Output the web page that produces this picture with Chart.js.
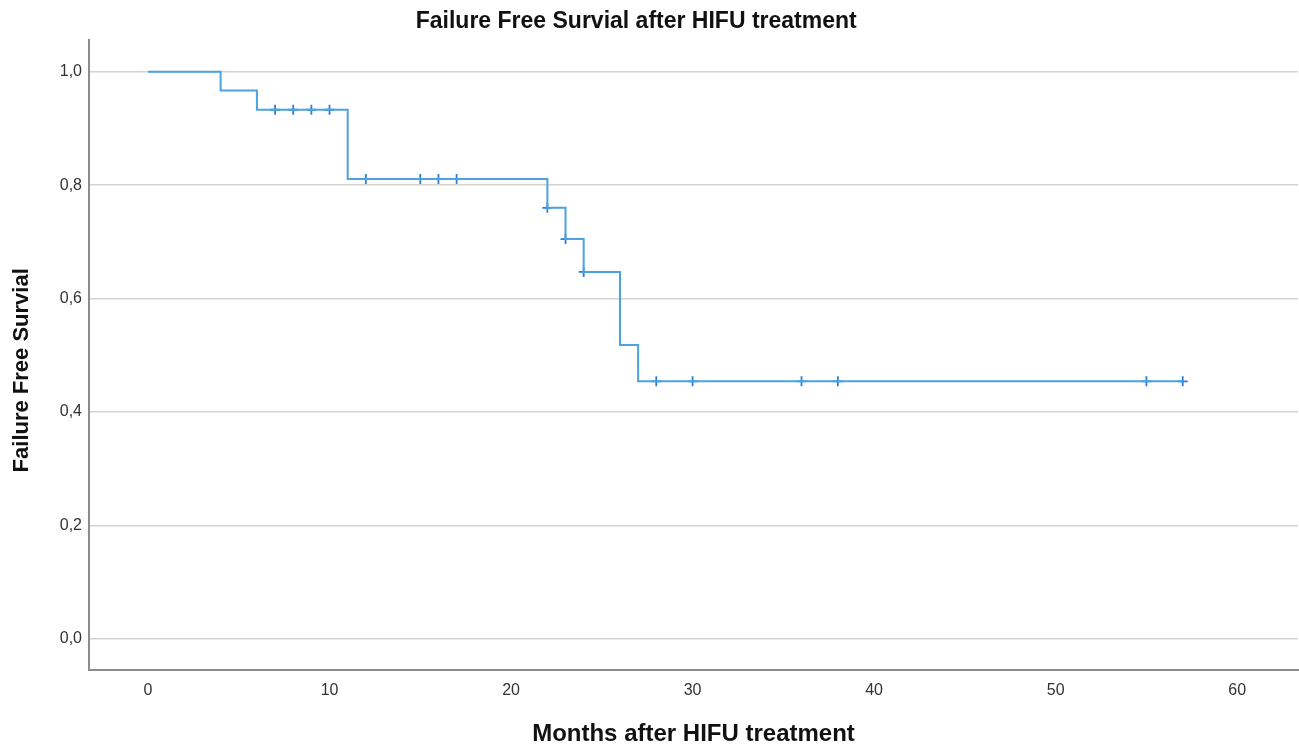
<!DOCTYPE html>
<html>
<head>
<meta charset="utf-8">
<script src="https://cdn.jsdelivr.net/npm/chart.js@4"></script>
<style>
  html, body { margin: 0; padding: 0; background: #fff; }
  #wrap { width: 1299px; height: 747px; }
</style>
</head>
<body>
<div id="wrap"><canvas id="kmChart"></canvas></div>
<script>
// Kaplan-Meier curve: event times and survival level after each step
const stepMonths = [0, 4, 6, 11, 22, 23, 24, 26, 27, 57];
const stepSurvival = [1.0, 0.967, 0.933, 0.811, 0.760, 0.705, 0.647, 0.518, 0.454, 0.454];

// censored observations
const censorMonths = [7, 8, 9, 10, 12, 15, 16, 17, 22, 23, 24, 28, 30, 36, 38, 55, 57];
const censorSurvival = [0.933, 0.933, 0.933, 0.933, 0.811, 0.811, 0.811, 0.811, 0.760, 0.705, 0.647, 0.454, 0.454, 0.454, 0.454, 0.454, 0.454];

const xTicks = [0, 10, 20, 30, 40, 50, 60];
const yTicks = [0, 0.2, 0.4, 0.6, 0.8, 1.0];

const toPoints = (xs, ys) => xs.map((x, i) => ({ x: x, y: ys[i] }));

const fontName = "'Liberation Sans', Arial, sans-serif";

new Chart(document.getElementById("kmChart"), {
    type: "line",
    data: {
        datasets: [
            {
                label: "Survival",
                data: toPoints(stepMonths, stepSurvival),
                stepped: "before",
                borderColor: "#4ba3e0",
                borderWidth: 2,
                pointRadius: 0,
                fill: false,
            },
            {
                label: "Censored",
                data: toPoints(censorMonths, censorSurvival),
                showLine: false,
                pointStyle: "cross",
                pointRadius: 5,
                pointBorderWidth: 1.8,
                pointBorderColor: "#2b7fd4",
                pointBackgroundColor: "#2b7fd4",
            }
        ]
    },
    options: {
        responsive: true,
        maintainAspectRatio: false,
        animation: false,
        layout: { autoPadding: false, padding: { left: 0, right: 1, top: 0, bottom: 0 } },
        plugins: {
            legend: { display: false },
            tooltip: { enabled: false },
            title: {
                display: true,
                // trailing spaces nudge the centre left like the original
                text: "Failure Free Survial after HIFU treatment    ",
                color: "#111",
                font: { family: fontName, size: 23, weight: "bold" },
                padding: { top: 8, bottom: 4.4 },
            }
        },
        scales: {
            x: {
                type: "linear",
                min: -3.25,
                max: 63.35,
                afterFit(scale) { scale.height = 77; },
                afterBuildTicks(scale) { scale.ticks = xTicks.map(v => ({ value: v })); },
                grid: { display: false, drawTicks: false },
                border: { display: true, color: "#8c8c8c", width: 2 },
                ticks: {
                    color: "#333",
                    padding: 11,
                    maxRotation: 0,
                    font: { family: fontName, size: 16 },
                },
                title: {
                    display: true,
                    text: "Months after HIFU treatment",
                    color: "#111",
                    font: { family: fontName, size: 24, weight: "bold" },
                    padding: { top: 0, bottom: -2 },
                }
            },
            y: {
                min: -0.055,
                max: 1.056,
                afterFit(scale) { scale.width = 89; },
                afterBuildTicks(scale) { scale.ticks = yTicks.map(v => ({ value: v })); },
                grid: { color: "#d3d3d3", lineWidth: 1.5, drawTicks: false },
                border: { display: true, color: "#8c8c8c", width: 2 },
                ticks: {
                    color: "#333",
                    padding: 7,
                    font: { family: fontName, size: 16 },
                    callback: v => v.toFixed(1).replace(".", ","),
                },
                title: {
                    display: true,
                    text: "Failure Free Survial     ",
                    color: "#111",
                    font: { family: fontName, size: 22, weight: "bold" },
                    padding: { top: 9, bottom: 0 },
                }
            }
        }
    }
});
</script>
</body>
</html>
